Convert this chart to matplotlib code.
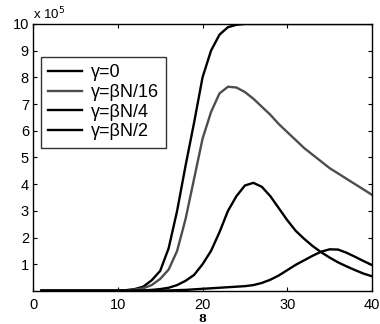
import numpy as np
import matplotlib
matplotlib.use("Agg")
import matplotlib.pyplot as plt

plt.rcParams['font.family'] = ['Liberation Sans', 'DejaVu Sans']

# time steps 1..40
t = np.arange(1, 41)

# values in units of 1e5
g0 = [0.01, 0.01, 0.01, 0.01, 0.01, 0.01, 0.01, 0.01, 0.01, 0.01,
      0.03, 0.07, 0.16, 0.4, 0.75, 1.6, 3.0, 4.7, 6.3, 8.0,
      9.0, 9.6, 9.88, 9.97, 10.0, 10.0, 10.0, 10.0, 10.0, 10.0,
      10.0, 10.0, 10.0, 10.0, 10.0, 10.0, 10.0, 10.0, 10.0, 10.0]
g16 = [0.01, 0.01, 0.01, 0.01, 0.01, 0.01, 0.01, 0.01, 0.01, 0.01,
       0.02, 0.05, 0.1, 0.22, 0.45, 0.8, 1.5, 2.7, 4.2, 5.7,
       6.7, 7.4, 7.65, 7.62, 7.45, 7.2, 6.9, 6.6, 6.25, 5.95,
       5.65, 5.35, 5.1, 4.85, 4.6, 4.4, 4.2, 4.0, 3.8, 3.6]
g4 = [0.01, 0.01, 0.01, 0.01, 0.01, 0.01, 0.01, 0.01, 0.01, 0.01,
      0.01, 0.01, 0.02, 0.04, 0.07, 0.12, 0.22, 0.38, 0.6, 1.0,
      1.5, 2.2, 3.0, 3.55, 3.95, 4.05, 3.9, 3.55, 3.1, 2.65,
      2.25, 1.95, 1.68, 1.45, 1.25, 1.07, 0.92, 0.78, 0.65, 0.55]
g2 = [0.01, 0.01, 0.01, 0.01, 0.01, 0.01, 0.01, 0.01, 0.01, 0.01,
      0.01, 0.01, 0.01, 0.01, 0.01, 0.02, 0.03, 0.04, 0.06, 0.08,
      0.1, 0.12, 0.14, 0.16, 0.18, 0.22, 0.3, 0.42, 0.58, 0.78,
      0.98, 1.15, 1.32, 1.47, 1.56, 1.55, 1.43, 1.28, 1.12, 0.97]

labels = ['γ=0', 'γ=βN/16', 'γ=βN/4', 'γ=βN/2']
colors = ['black', '0.3', 'black', 'black']

fig = plt.figure(figsize=(3.8, 3.24), dpi=100)
ax = fig.add_axes([0.087, 0.102, 0.892, 0.824])

for y, lab, c in zip([g0, g16, g4, g2], labels, colors):
    ax.plot(t, np.array(y) * 1e5, color=c, lw=1.7, label=lab)

ax.set_xlim(0, 40)
ax.set_ylim(0, 1e6)
ax.set_xticks([0, 10, 20, 30, 40])
ax.set_yticks(np.arange(1, 11) * 1e5)
ax.set_yticklabels([str(i) for i in range(1, 11)])
ax.tick_params(direction='in', top=True, right=True, length=3,
               labelsize=10.5)
ax.tick_params(axis='x', pad=5)
ax.tick_params(axis='y', pad=3)
for s in ax.spines.values():
    s.set_linewidth(1.0)

ax.text(0.0, 1.005, 'x 10$^5$', transform=ax.transAxes, fontsize=9.5,
        ha='left', va='bottom')

leg = ax.legend(loc='upper left', bbox_to_anchor=(0.024, 0.876),
                fontsize=13, frameon=True, fancybox=False,
                handlelength=1.85, handletextpad=0.5, labelspacing=0.15,
                borderpad=0.4, borderaxespad=0)
leg.get_frame().set_edgecolor('black')
leg.get_frame().set_linewidth(1.0)

fig.text(202 / 380, 1 - 318 / 324, '8', fontsize=8, fontweight='bold',
         family='DejaVu Serif', ha='center', va='center')

fig.savefig('out.png', dpi=100)
